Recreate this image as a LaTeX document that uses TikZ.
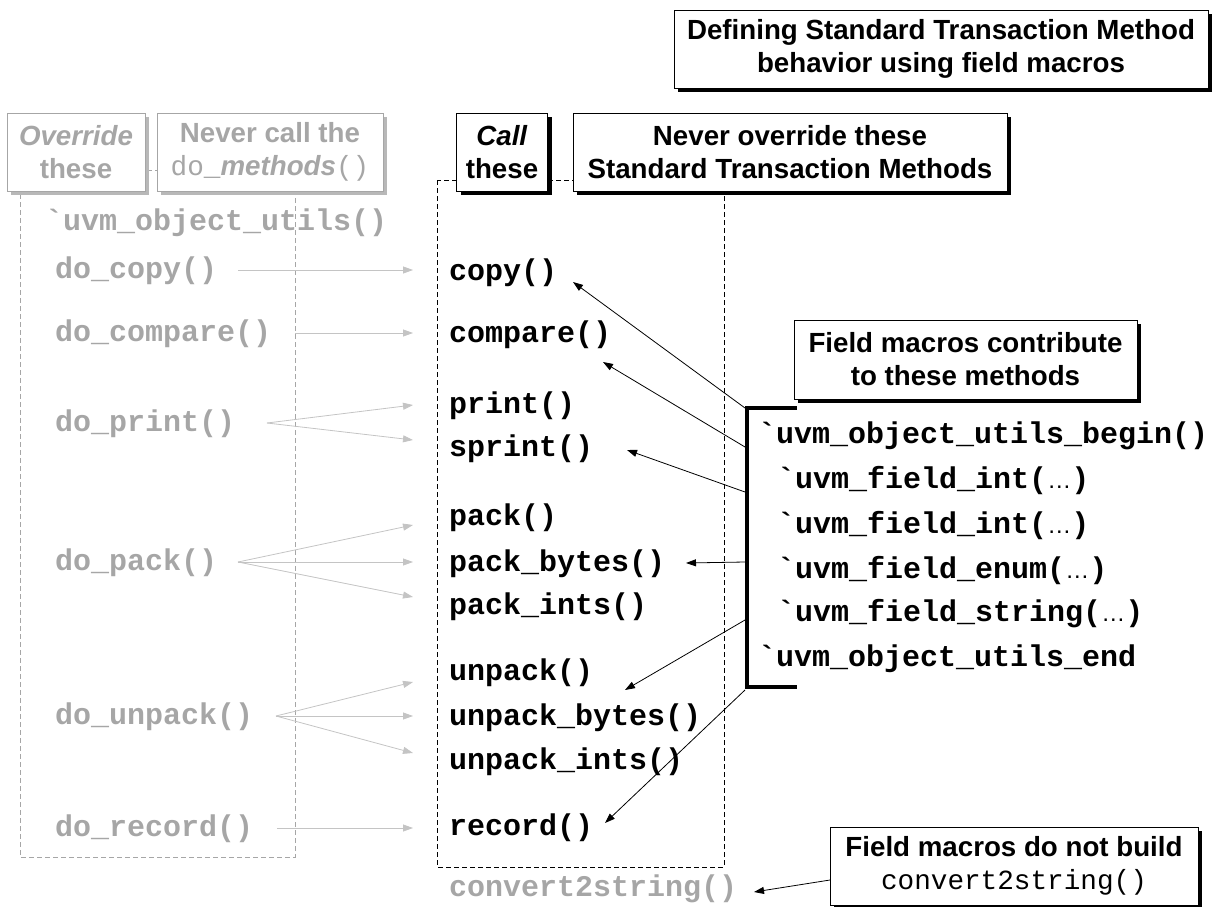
\documentclass[tikz,border=0pt]{standalone}
\usepackage{fontspec}
\setmainfont{Liberation Sans}
\setmonofont{Liberation Mono}
\usetikzlibrary{arrows.meta,shadows}
\definecolor{lgray}{HTML}{A6A6A6}
\definecolor{agray}{HTML}{C4C4C4}
\definecolor{sgray}{HTML}{B8B8B8}
\newcommand\ellip{{\fontspec{Liberation Sans}\fontsize{24}{24}\selectfont\mdseries …}}
\begin{document}
\begin{tikzpicture}[x=1pt,y=-1pt,
  lab/.style={align=center, font=\fontsize{27.7}{33}\selectfont\bfseries,
    inner sep=0pt, minimum height=78pt, line width=0.8pt, fill=white},
  blkbox/.style={lab, draw=black,
    drop shadow={shadow xshift=4pt,shadow yshift=-4pt,fill=black,opacity=1}},
  grybox/.style={lab, draw=lgray, text=lgray,
    drop shadow={shadow xshift=4pt,shadow yshift=-4pt,fill=sgray,opacity=1}},
  code/.style={font=\fontsize{30}{30}\selectfont\ttfamily\bfseries,
    anchor=base west, inner sep=0pt},
  gcode/.style={code, text=lgray},
  link/.style={-{Triangle[length=10pt,width=7pt]}, line width=0.8pt},
  glink/.style={link, color=agray},
  frame/.style={dash pattern=on 5pt off 3pt, line width=0.8pt}]
\useasboundingbox (0,0) rectangle (1215,907);

% dashed frames around the two method columns
\draw[frame, lgray] (20,170) rectangle (295,857);
\draw[frame, black] (437,180) rectangle (724,867);

% heading boxes
\node[blkbox, minimum width=534pt] (title) at (941,49)
  {Defining Standard Transaction Method\\behavior using field macros};
\node[grybox, minimum width=138pt] (override) at (76,152)
  {\textit{Override}\\these};
\node[grybox, minimum width=226pt] (nevercall) at (270,152)
  {Never call the\\{\ttfamily\mdseries do\_}\textit{methods}{\ttfamily\mdseries ()}};
\node[blkbox, minimum width=91pt] (call) at (502,152)
  {\textit{Call}\\these};
\node[blkbox, minimum width=434pt] (neverover) at (790,152)
  {Never override these\\Standard Transaction Methods};
\node[blkbox, minimum width=343pt, minimum height=79pt] (contrib) at (965.5,359.5)
  {Field macros contribute\\to these methods};
\node[blkbox, minimum width=368pt] (notbuild) at (1014,866)
  {Field macros do not build\\{\ttfamily\mdseries convert2string()}};

% overridable hooks
\node[gcode] (utils) at (45,230) {`uvm\_object\_utils()};
\node[gcode] (docopy) at (55,278) {do\_copy()};
\node[gcode] (docompare) at (55,341) {do\_compare()};
\node[gcode] (doprint) at (55,431) {do\_print()};
\node[gcode] (dopack) at (55,570) {do\_pack()};
\node[gcode] (dounpack) at (55,724) {do\_unpack()};
\node[gcode] (dorecord) at (55,836) {do\_record()};

% standard transaction methods
\node[code] (copy) at (449,280) {copy()};
\node[code] (compare) at (449,342) {compare()};
\node[code] (print) at (449,413) {print()};
\node[code] (sprint) at (449,456) {sprint()};
\node[code] (pack) at (449,525) {pack()};
\node[code] (packbytes) at (449,571) {pack\_bytes()};
\node[code] (packints) at (449,614) {pack\_ints()};
\node[code] (unpack) at (449,680) {unpack()};
\node[code] (unpackbytes) at (449,725) {unpack\_bytes()};
\node[code] (unpackints) at (449,769) {unpack\_ints()};
\node[code] (record) at (449,835) {record()};
\node[gcode] (c2s) at (449,896) {convert2string()};

% field macro list
\node[code] (mbegin) at (758,443) {`uvm\_object\_utils\_begin()};
\node[code] (mint1) at (777,488) {`uvm\_field\_int(\ellip)};
\node[code] (mint2) at (777,533) {`uvm\_field\_int(\ellip)};
\node[code] (menum) at (777,578) {`uvm\_field\_enum(\ellip)};
\node[code] (mstr) at (777,621) {`uvm\_field\_string(\ellip)};
\node[code] (mend) at (758,666) {`uvm\_object\_utils\_end};

% bracket grouping the macros
\draw[line width=4.5pt] (797,408) -- (747,408) -- (747,687) -- (797,687);
\coordinate (b1) at (745,408);
\coordinate (b2) at (745,447);
\coordinate (b3) at (745,492);
\coordinate (b4) at (745,562);
\coordinate (b5) at (745,620);
\coordinate (b6) at (745,690);

% arrow ends next to the method names
\coordinate (tcopy) at (573,282);
\coordinate (tcompare) at (603,362);
\coordinate (tsprint) at (627,450);
\coordinate (tpackbytes) at (686,563);
\coordinate (tunpack) at (625,690);
\coordinate (trecord) at (605,823);
\coordinate (tc2s) at (754,892);
\coordinate (snb) at (830,880);

\draw[link] (b1) -- (tcopy);
\draw[link] (b2) -- (tcompare);
\draw[link] (b3) -- (tsprint);
\draw[link] (b4) -- (tpackbytes);
\draw[link] (b5) -- (tunpack);
\draw[link] (b6) -- (trecord);
\draw[link] (snb) -- (tc2s);

% hooks feeding the standard methods
\coordinate (scopy) at (238,270);
\coordinate (scompare) at (295,333);
\coordinate (sprintsrc) at (267,423);
\coordinate (spack) at (238,562);
\coordinate (sunpack) at (276,716);
\coordinate (srecord) at (277,828);
\coordinate (gcopy) at (413,270);
\coordinate (gcompare) at (413,333);
\coordinate (gprint) at (413,405);
\coordinate (gsprint) at (413,440);
\coordinate (gpack) at (413,525);
\coordinate (gpackb) at (413,562);
\coordinate (gpacki) at (413,597);
\coordinate (gunpack) at (413,682);
\coordinate (gunpackb) at (413,716);
\coordinate (gunpacki) at (413,753);
\coordinate (grecord) at (413,828);

\draw[glink] (scopy) -- (gcopy);
\draw[glink] (scompare) -- (gcompare);
\draw[glink] (sprintsrc) -- (gprint);
\draw[glink] (sprintsrc) -- (gsprint);
\draw[glink] (spack) -- (gpack);
\draw[glink] (spack) -- (gpackb);
\draw[glink] (spack) -- (gpacki);
\draw[glink] (sunpack) -- (gunpack);
\draw[glink] (sunpack) -- (gunpackb);
\draw[glink] (sunpack) -- (gunpacki);
\draw[glink] (srecord) -- (grecord);
\end{tikzpicture}
\end{document}
